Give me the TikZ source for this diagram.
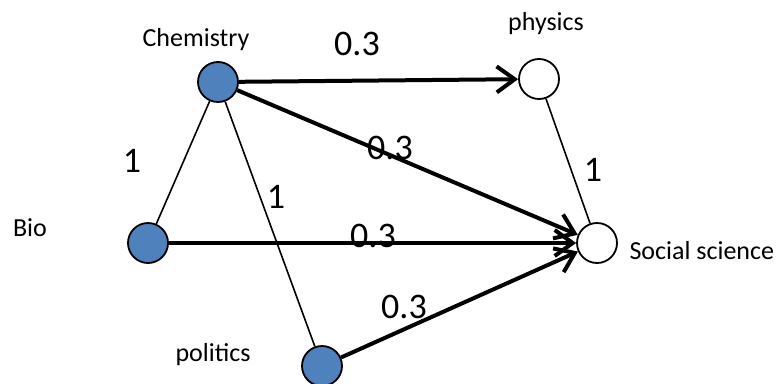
\documentclass[tikz,border=0pt]{standalone}
\usepackage{fontspec}
\setmainfont{Carlito}
\usepackage{tikz}
\usetikzlibrary{arrows.meta}

\definecolor{topicblue}{HTML}{4F81BD}
\tikzset{
  topic/.style={circle,draw,line width=1.8pt,minimum size=40pt,inner sep=0pt},
  knowntopic/.style={topic,fill=topicblue},
  newtopic/.style={topic,fill=white},
  tie/.style={line width=1.6pt},
  flow/.style={line width=4pt,-{Straight Barb[length=18pt,width=26pt,line width=4pt]}},
  topicname/.style={font=\fontsize{26}{31}\selectfont},
  weightlabel/.style={font=\fontsize{36}{43}\selectfont}
}

\begin{document}
\begin{tikzpicture}[x=1pt,y=-1pt]
\useasboundingbox (0,0) rectangle (778,383);

% Topics
\node[knowntopic] (chem) at (218,82) {};
\node[knowntopic] (bio) at (148,243) {};
\node[knowntopic] (pol) at (322,366) {};
\node[newtopic] (phys) at (539,79) {};
\node[newtopic] (soc) at (597,243) {};

% Names
\node[topicname] (chemname) at (196,40) {Chemistry};
\node[topicname] (physname) at (546,24) {physics};
\node[topicname] (bioname) at (30,228) {Bio};
\node[topicname] (polname) at (213,355) {politics};
\node[topicname,anchor=west] (socname) at (626,251) {Social science};

% Undirected ties
\draw[tie] (chem) -- (bio);
\draw[tie] (chem) -- (pol);
\draw[tie] (phys) -- (soc);

% Directed flows
\draw[flow] (chem) -- (phys);
\draw[flow] (chem) -- (soc);
\draw[flow] (bio) -- (soc);
\draw[flow] (pol) -- (soc);

% Weights
\node[weightlabel] (wcp) at (357,44) {0.3};
\node[weightlabel] (wcs) at (390,148) {0.3};
\node[weightlabel] (wbs) at (373,236) {0.3};
\node[weightlabel] (wps) at (404,307) {0.3};
\node[weightlabel] (wcb) at (132,161) {1};
\node[weightlabel] (wcl) at (276,197) {1};
\node[weightlabel] (wys) at (593,170) {1};
\end{tikzpicture}
\end{document}
